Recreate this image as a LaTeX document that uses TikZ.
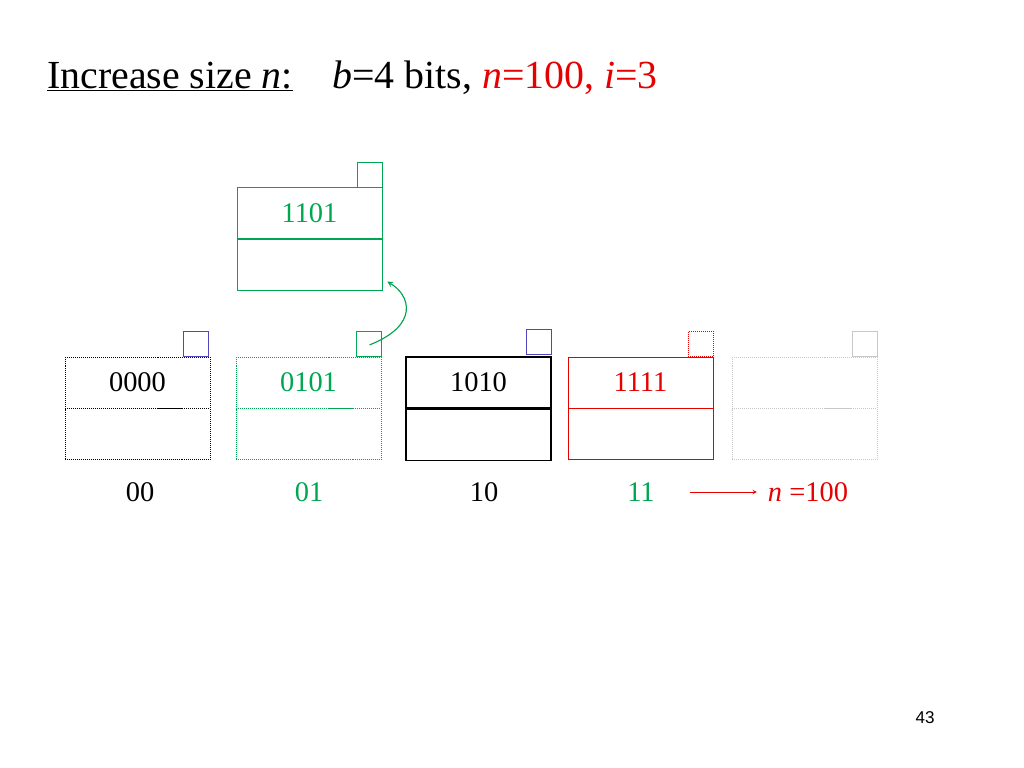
\documentclass[tikz,border=0pt]{standalone}
\usepackage{fontspec}
\setmainfont{Liberation Serif}
\setsansfont{Liberation Sans}
\usetikzlibrary{positioning}
\definecolor{bgreen}{RGB}{0,166,81}
\definecolor{bblue}{RGB}{80,70,190}
\definecolor{bred}{RGB}{230,0,0}
\definecolor{bgray}{RGB}{200,200,200}

\begin{document}
\begin{tikzpicture}[x=0.703pt,y=-0.703pt]

		% Define styles
		\tikzset{
		keycell/.style={rectangle, minimum width=145*0.703pt, minimum height=51*0.703pt,
			inner sep=0pt, font=\fontsize{20}{20}\selectfont, text depth=0pt},
		tag/.style={rectangle, minimum size=25*0.703pt, inner sep=0pt},
		idx/.style={font=\fontsize{20}{20}\selectfont},
		arrow/.style={->,>=stealth}}

		\useasboundingbox (0,0) rectangle (1024,768);

		% Title
		\node (title) [anchor=base west, inner sep=0pt, font=\fontsize{28}{28}\selectfont] at (47,88)
			{\underline{Increase size \textit{n}:}\quad \textit{b}=4 bits, \textcolor{bred}{\textit{n}=100, \textit{i}=3}};

		% Buckets
		\node (k0) [keycell, draw=black, densely dotted] at (137.5,382.5) {0000};
		\node (v0) [keycell, draw=black, densely dotted, below=0pt of k0] {};
		\node (t0) [tag, draw=bblue, anchor=south east, xshift=-2*0.703pt] at (k0.north east) {};

		\node (k1) [keycell, draw=bgreen, densely dotted, text=bgreen] at (308.5,382.5) {0101};
		\node (v1) [keycell, draw=bgreen, densely dotted, below=0pt of k1] {};
		\node (t1) [tag, draw=bgreen, anchor=south east] at (k1.north east) {};

		\node (k2) [keycell, draw=black, thick] at (478.5,382.5) {1010};
		\node (v2) [keycell, draw=black, thick, below=0pt of k2] {};
		\node (t2) [tag, draw=bblue, anchor=south east, yshift=2*0.703pt] at (k2.north east) {};

		\node (k3) [keycell, draw=bred, text=bred] at (640.5,382.5) {1111};
		\node (v3) [keycell, draw=bred, below=0pt of k3] {};
		\node (t3) [tag, draw=bred, densely dotted, anchor=south east] at (k3.north east) {};

		\node (k4) [keycell, draw=bgray, densely dotted] at (804.5,382.5) {};
		\node (v4) [keycell, draw=bgray, densely dotted, below=0pt of k4] {};
		\node (t4) [tag, draw=bgray, anchor=south east] at (k4.north east) {};

		% New bucket
		\node (kn) [keycell, draw=bgreen, text=bgreen] at (309.5,213) {1101};
		\node (vn) [keycell, draw=bgreen, below=0pt of kn] {};
		\node (tn) [tag, draw=bgreen, anchor=south east] at (kn.north east) {};

		% Indices
		\node (i0) [idx] at (140,492) {00};
		\node (i1) [idx, text=bgreen] at (309,492) {01};
		\node (i2) [idx] at (484,492) {10};
		\node (i3) [idx, text=bgreen] at (641,492) {11};
		\node (inew) [idx, text=bred] at (808,492) {\textit{n} =100};

		% Arrows
		\draw [arrow, bred] (i3.east) ++(30,0) coordinate (a0) -- ([xshift=-6*0.703pt]inew.west);
		\draw [arrow, bgreen, thick] ([xshift=1*0.703pt,yshift=-1*0.703pt]t1.center)
			.. controls (420,325) and (410,295) .. ([xshift=5*0.703pt,yshift=-17*0.703pt]vn.east);

		% Page number
		\node (page) [font=\sffamily\fontsize{12}{12}\selectfont] at (925,718) {43};
	\end{tikzpicture}
\end{document}
